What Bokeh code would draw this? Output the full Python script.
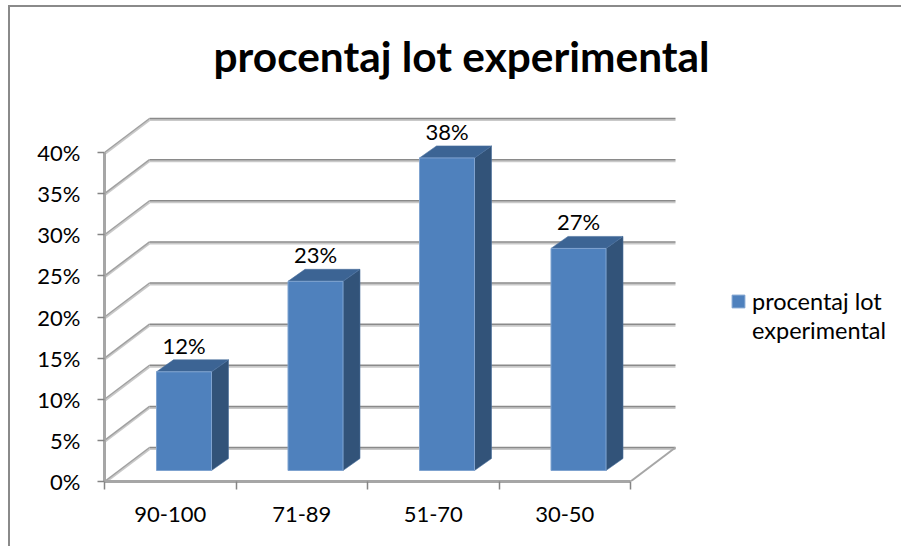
from bokeh.embed import file_html
from bokeh.models import (ColumnDataSource, FixedTicker, Legend, LegendItem,
                          LinearAxis, PrintfTickFormatter, Range1d, Title)
from bokeh.plotting import figure
from bokeh.resources import INLINE

categories = ["90-100", "71-89", "51-70", "30-50"]
values = [12, 23, 38, 27]
y_ticks = [0, 5, 10, 15, 20, 25, 30, 35, 40]
title_text = "procentaj lot experimental"
legend_lines = ["procentaj lot", "experimental"]

FONT = "Lato"
PX_X = 131.5          # pixels per category
PX_Y = 8.225          # pixels per percent
DEPTH_X = 45 / PX_X   # oblique wall offset, data units
DEPTH_Y = 34 / PX_Y
BAR_L = 52 / PX_X     # left gap of a bar front
BAR_W = 55 / PX_X
BAR_B = 11 / PX_Y     # lift of the bar base
SIDE_X = 17 / PX_X
SIDE_Y = 12 / PX_Y
n = len(categories)

OX, OY = 8, -4   # page position of the canvas
W, H = 901 - OX, 546 - OY
FRAME_W, FRAME_H = 586, 370
left, top, bottom = 104 - OX, 481 - FRAME_H - OY, 546 - 481
BORDER = "linear-gradient(#8a8a8a,#8a8a8a)"
p = figure(width=W, height=H, frame_width=FRAME_W, frame_height=FRAME_H,
           output_backend="svg", toolbar_location=None,
           x_range=Range1d(0, FRAME_W / PX_X), y_range=Range1d(0, FRAME_H / PX_Y),
           min_border_left=left, min_border_right=0, min_border_top=top, min_border_bottom=bottom,
           margin=(OY, 0, 0, OX), outline_line_color=None, x_axis_type=None, y_axis_type=None,
           border_fill_alpha=0, background_fill_alpha=0,
           styles={"background": f"{BORDER} 0 {5 - OY}px / 100% 2px no-repeat, "
                                 f"{BORDER} 0 {5 - OY}px / 2px 100% no-repeat"})
p.grid.visible = False

p.title = Title(text=title_text, align="left", offset=109, standoff=61, text_font=FONT,
                text_font_size="42.4px", text_font_style="bold", text_color="#000000")

# gridlines on the side wall and the back wall, with their soft shadow
gx0, gy0, gx1, gy1, gx2, gy2 = [], [], [], [], [], []
for v in y_ticks:
    gx0.append(0); gy0.append(v)
    gx1.append(DEPTH_X); gy1.append(v + DEPTH_Y)
    gx2.append(n + DEPTH_X); gy2.append(v + DEPTH_Y)
shift = 1.6 / PX_Y
p.segment(gx0, [y - shift for y in gy0], gx1, [y - shift for y in gy1], line_color="#c9c9c9", line_width=2)
p.segment(gx1, [y - shift for y in gy1], gx2, [y - shift for y in gy2], line_color="#c9c9c9", line_width=2)
p.segment(gx0, gy0, gx1, gy1, line_color="#a0a0a0", line_width=1.5)
p.segment(gx1, gy1, gx2, gy2, line_color="#8a8a8a", line_width=1.5)
# floor edge on the right
p.segment([n], [0], [n + DEPTH_X], [DEPTH_Y], line_color="#a6a6a6", line_width=2)

# bars
lefts = [i + BAR_L for i in range(n)]
rights = [l + BAR_W for l in lefts]
src = ColumnDataSource(dict(left=lefts, right=rights, top=[v + BAR_B for v in values],
                            bottom=[BAR_B] * n, label=[f"{v}%" for v in values],
                            mid=[l + BAR_W / 2 for l in lefts]))
side_x = [[r, r + SIDE_X, r + SIDE_X, r] for r in rights]
side_y = [[BAR_B, BAR_B + SIDE_Y, v + BAR_B + SIDE_Y, v + BAR_B] for v in values]
top_x = [[l, l + SIDE_X, r + SIDE_X, r] for l, r in zip(lefts, rights)]
top_y = [[v + BAR_B, v + BAR_B + SIDE_Y, v + BAR_B + SIDE_Y, v + BAR_B] for v in values]
p.patches(side_x, side_y, fill_color="#325379", line_color="#4a6e9c", line_width=0.6)
p.patches(top_x, top_y, fill_color="#3c6494", line_color="#4a6e9c", line_width=0.6)
bars = p.quad(left="left", right="right", top="top", bottom="bottom", source=src,
              fill_color="#4f81bd", line_color="#7fa3d0", line_width=1)
p.text(x="mid", y="top", text="label", source=src, text_align="center", text_baseline="bottom",
       y_offset=-13, text_font=dict(value=FONT), text_font_size="22px", text_color="#000000")
no_glyph = p.quad(left=[], right=[], top=[], bottom=[], fill_alpha=0, line_alpha=0)

# axes
yax = LinearAxis(ticker=FixedTicker(ticks=y_ticks), formatter=PrintfTickFormatter(format="%d%%"),
                 bounds=(0, 40), axis_line_color="#a6a6a6", axis_line_width=3,
                 major_tick_line_color="#858585", major_tick_line_width=1.5,
                 major_tick_in=0, major_tick_out=7, minor_tick_in=0, minor_tick_out=0,
                 major_label_standoff=17, major_label_text_font=FONT, major_label_text_font_size="22px",
                 major_label_text_color="#000000")
p.add_layout(yax, "left")
xax = LinearAxis(ticker=FixedTicker(ticks=[i + 0.5 for i in range(n)], minor_ticks=list(range(n + 1))),
                 major_label_overrides={i + 0.5: c for i, c in enumerate(categories)},
                 bounds=(0, n), axis_line_color="#a6a6a6", axis_line_width=3,
                 major_tick_in=0, major_tick_out=0, minor_tick_in=0, minor_tick_out=8,
                 minor_tick_line_color="#858585", minor_tick_line_width=1.5,
                 major_label_standoff=17, major_label_text_font=FONT, major_label_text_font_size="22px",
                 major_label_text_color="#000000")
p.add_layout(xax, "below")

legend = Legend(items=[LegendItem(label=legend_lines[0], renderers=[bars]),
                       LegendItem(label=legend_lines[1], renderers=[no_glyph])],
                location=(40, 137), orientation="vertical", spacing=1,
                border_line_color=None, background_fill_alpha=0,
                label_text_font=FONT, label_text_font_size="23.5px", label_text_color="#000000",
                glyph_width=16, glyph_height=16, label_standoff=6, margin=0, padding=6)
p.add_layout(legend, "right")

open("out.html", "w").write(file_html(p, INLINE))
